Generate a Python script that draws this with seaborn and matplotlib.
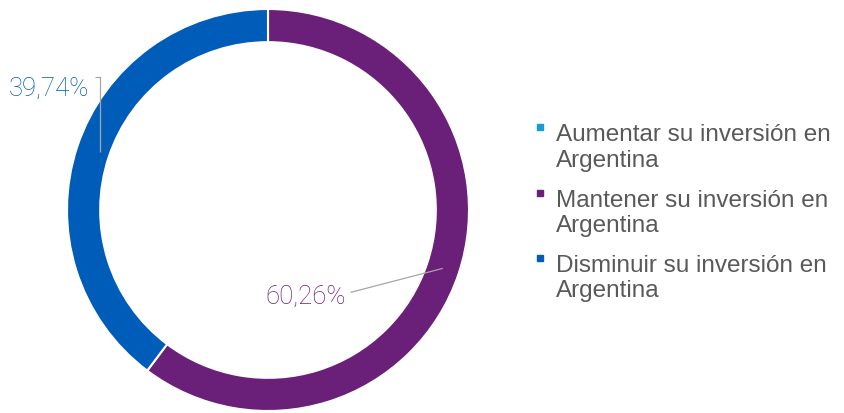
import numpy as np
import seaborn as sns
import matplotlib.pyplot as plt
from matplotlib.lines import Line2D
from matplotlib.legend_handler import HandlerLine2D

# Data
categories = ["Aumentar su inversión en\nArgentina",
              "Mantener su inversión en\nArgentina",
              "Disminuir su inversión en\nArgentina"]
values = [0.0, 60.26, 39.74]
value_labels = ["", "60,26%", "39,74%"]
colors = ["#1a9ad6", "#6a1f78", "#005cb9"]

sns.set_theme(style="white")
plt.rcParams['font.family'] = ['Liberation Sans', 'DejaVu Sans']

fig = plt.figure(figsize=(8.45, 4.13), dpi=100)
# pie axes: center at (268, 210) px, radius ~201 px
r_px = 201
ax = fig.add_axes([(268 - r_px * 1.3) / 845, (413 - 210 - r_px * 1.3) / 413,
                   r_px * 2.6 / 845, r_px * 2.6 / 413])

wedges, _ = ax.pie(values, colors=colors, startangle=90, counterclock=False,
                   radius=1.0, wedgeprops=dict(width=0.165, edgecolor='white', linewidth=1.5))
ax.set_xlim(-1.3, 1.3)
ax.set_ylim(-1.3, 1.3)
ax.set_aspect('equal')
ax.axis('off')

# labels with leader lines
label_cfg = {
    1: dict(text_xy=(0.385, -0.43), elbow=None),
    2: dict(text_xy=(-0.89, 0.605), elbow=(-0.835, 0.66)),
}
for i, cfg in label_cfg.items():
    w = wedges[i]
    mid = np.deg2rad((w.theta1 + w.theta2) / 2)
    start = (0.917 * np.cos(mid), 0.917 * np.sin(mid))
    if i == 2:
        start = (-0.835, 0.915 * np.sin(mid))
    tx, ty = cfg['text_xy']
    if cfg['elbow'] is None:
        xs = [start[0], tx + 0.025]
        ys = [start[1], ty + 0.02]
    else:
        ex, ey = cfg['elbow']
        xs = [start[0], ex, tx + 0.03]
        ys = [start[1], ey, ey]
    ax.plot(xs, ys, color='#a6a6a6', lw=0.9, solid_capstyle='butt')
    ax.text(tx, ty, value_labels[i], ha='right', va='center',
            fontsize=18.5, color=colors[i], family=['Roboto', 'DejaVu Sans'],
            fontweight='light')


class TopMarker(HandlerLine2D):
    # put the square next to the first line of a two-line label
    def create_artists(self, legend, orig_handle, xdescent, ydescent, width, height,
                       fontsize, trans):
        arts = super().create_artists(legend, orig_handle, xdescent, ydescent, width,
                                      height, fontsize, trans)
        for a in arts:
            a.set_ydata(np.asarray(a.get_ydata()) + 0.85 * fontsize)
        return arts


# legend
handles = [Line2D([0], [0], marker='s', linestyle='', markersize=5,
                  markerfacecolor=c, markeredgecolor=c) for c in colors]
fig.legend(handles, categories, loc='upper left', bbox_to_anchor=(522 / 845, 1 - 112 / 413),
           frameon=False, fontsize=17.5, labelcolor='#595959', handlelength=0.5,
           handletextpad=0.4, labelspacing=0.74, borderpad=0,
           handler_map={Line2D: TopMarker()})

fig.savefig("out.png", dpi=100)
